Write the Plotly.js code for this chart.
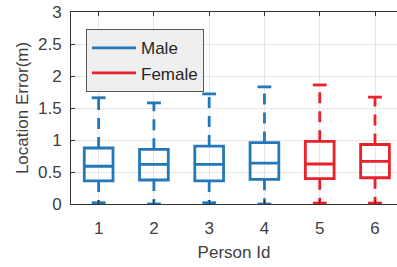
<!DOCTYPE html>
<html><head><meta charset="utf-8">
<script src="https://cdn.plot.ly/plotly-3.0.1.min.js"></script>
<style>html,body{margin:0;padding:0;background:#fff}#chart{width:397px;height:267px}</style>
</head><body><div id="chart"></div>
<script>
const personIds = [1, 2, 3, 4, 5, 6];
const groups = ['Male', 'Male', 'Male', 'Male', 'Female', 'Female'];
const lowerWhisker = [0.02, 0.00, 0.02, 0.00, 0.015, 0.015];
const q1Values = [0.36, 0.375, 0.36, 0.385, 0.395, 0.41];
const medianValues = [0.59, 0.62, 0.62, 0.64, 0.625, 0.665];
const q3Values = [0.875, 0.855, 0.905, 0.96, 0.98, 0.93];
const upperWhisker = [1.66, 1.58, 1.72, 1.83, 1.86, 1.67];
const yTickVals = [0, 0.5, 1, 1.5, 2, 2.5, 3];
const yTickText = ['0', '0.5', '1', '1.5', '2', '2.5', '3'];

const colors = {Male: '#2378B8', Female: '#E8212B'};
const capHalf = 0.125;
const lw = 2.8;
const traces = [];

['Male', 'Female'].forEach(g => {
  const idx = personIds.map((p, i) => i).filter(i => groups[i] === g);
  const c = colors[g];
  traces.push({
    type: 'box', name: g, showlegend: false,
    x: idx.map(i => personIds[i]),
    q1: idx.map(i => q1Values[i]),
    median: idx.map(i => medianValues[i]),
    q3: idx.map(i => q3Values[i]),
    lowerfence: idx.map(i => q1Values[i]),
    upperfence: idx.map(i => q3Values[i]),
    width: 0.52, whiskerwidth: 0,
    fillcolor: 'rgba(0,0,0,0)',
    line: {color: c, width: lw},
    hoverinfo: 'skip'
  });
  const wx = [], wy = [];
  idx.forEach(i => {
    wx.push(personIds[i], personIds[i], null, personIds[i], personIds[i], null);
    wy.push(q3Values[i], upperWhisker[i], null, q1Values[i], lowerWhisker[i], null);
  });
  traces.push({
    type: 'scatter', mode: 'lines', x: wx, y: wy, showlegend: false,
    line: {color: c, width: lw, dash: '11px,8px'}, hoverinfo: 'skip'
  });
  const cx = [], cy = [];
  idx.forEach(i => {
    cx.push(personIds[i] - capHalf, personIds[i] + capHalf, null, personIds[i] - capHalf, personIds[i] + capHalf, null);
    cy.push(upperWhisker[i], upperWhisker[i], null, lowerWhisker[i], lowerWhisker[i], null);
  });
  traces.push({
    type: 'scatter', mode: 'lines', x: cx, y: cy, showlegend: false,
    line: {color: c, width: lw}, hoverinfo: 'skip'
  });
});
['Male', 'Female'].forEach(g => {
  traces.push({
    type: 'scatter', mode: 'lines', name: g, x: [null], y: [null],
    line: {color: colors[g], width: lw}
  });
});

const fontFam = '"Liberation Sans", Arial, sans-serif';
const layout = {
  width: 397, height: 267,
  margin: {l: 71, r: 0, t: 12, b: 63},
  paper_bgcolor: '#fff', plot_bgcolor: '#fff',
  font: {family: fontFam, size: 17, color: '#404040'},
  showlegend: true,
  legend: {
    x: 0.046, y: 0.91, xanchor: 'left', yanchor: 'top',
    bgcolor: '#EFEFEF', bordercolor: '#555', borderwidth: 1,
    font: {family: fontFam, size: 17, color: '#262626'},
    itemwidth: 44, tracegroupgap: 0
  },
  xaxis: {
    range: [0.5, 6.398], tickvals: personIds, ticktext: personIds.map(String),
    showgrid: true, gridcolor: '#E6E6E6', gridwidth: 1,
    showline: true, linecolor: '#333', linewidth: 1, mirror: 'ticks',
    ticks: 'inside', ticklen: 4, tickcolor: '#333', zeroline: false,
    ticklabelstandoff: 9,
    tickfont: {size: 17, color: '#404040'},
    title: {text: 'Person Id', font: {size: 17, color: '#404040'}, standoff: 8}
  },
  yaxis: {
    range: [0, 3], tickvals: yTickVals, ticktext: yTickText,
    showgrid: true, gridcolor: '#E6E6E6', gridwidth: 1,
    showline: true, linecolor: '#333', linewidth: 1, mirror: false,
    ticks: 'inside', ticklen: 4, tickcolor: '#333', zeroline: false,
    ticklabelstandoff: 5,
    tickfont: {size: 17, color: '#404040'},
    title: {text: 'Location Error(m)', font: {size: 17, color: '#404040'}, standoff: 5}
  }
};
Plotly.newPlot('chart', traces, layout, {staticPlot: true, displayModeBar: false});
</script>
</body></html>
